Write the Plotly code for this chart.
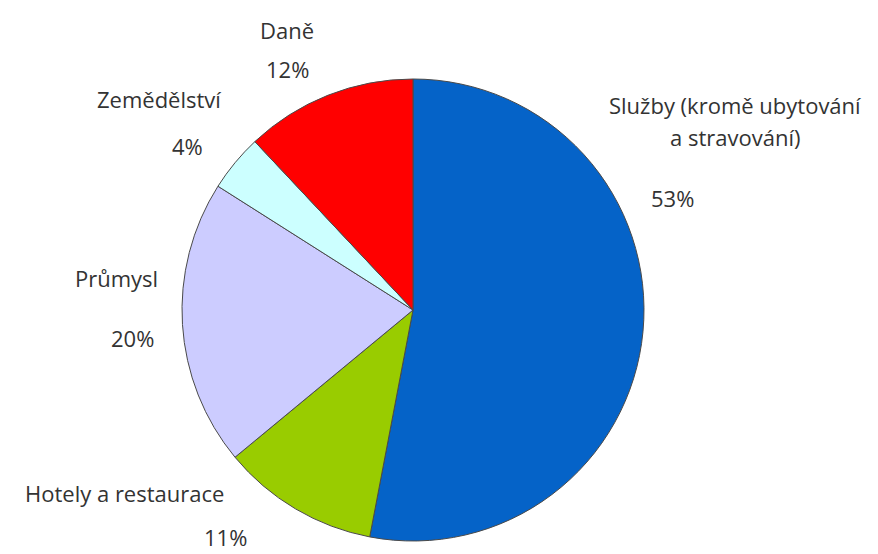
import plotly.graph_objects as go

labels = ["Služby (kromě ubytování a stravování)", "Hotely a restaurace", "Průmysl", "Zemědělství", "Daně"]
values = [53, 11, 20, 4, 12]
colors = ["#0563C8", "#99CC00", "#CCCCFF", "#CCFFFF", "#FF0000"]

# label text lines and their pixel positions (centers, in window pixels)
label_lines = [
    ["Služby (kromě ubytování", "a stravování)"],
    ["Hotely a restaurace"],
    ["Průmysl"],
    ["Zemědělství"],
    ["Daně"],
]
name_pos = [(735, 105), (124, 493), (116, 278), (159, 99), (287, 30)]
pct_pos = [(672, 198), (226, 537), (133, 338), (187, 146), (287, 69)]

OFF = 8  # page body margin
W, H = 870, 546
cx, cy, r = 413 - OFF, 310 - OFF, 231

fig = go.Figure(go.Pie(
    labels=labels,
    values=values,
    sort=False,
    direction="clockwise",
    rotation=0,
    textinfo="none",
    hoverinfo="label+percent",
    marker=dict(colors=colors, line=dict(color="#4a4a4a", width=1)),
    domain=dict(x=[(cx - r) / W, (cx + r) / W], y=[(H - cy - r) / H, (H - cy + r) / H]),
    showlegend=False,
))

font = dict(family="Open Sans, sans-serif", size=22, color="#333333")
annotations = []
for lines, (nx, ny), (px, py), v in zip(label_lines, name_pos, pct_pos, values):
    for i, line in enumerate(lines):
        annotations.append(dict(x=(nx - OFF) / W, y=1 - (ny - OFF + i * 32) / H, xref="paper", yref="paper",
                                text=line, showarrow=False, font=font, xanchor="center", yanchor="middle"))
    annotations.append(dict(x=(px - OFF) / W, y=1 - (py - OFF) / H, xref="paper", yref="paper",
                            text=f"{round(v / sum(values) * 100)}%", showarrow=False, font=font,
                            xanchor="center", yanchor="middle"))

fig.update_layout(
    width=W, height=H,
    margin=dict(l=0, r=0, t=0, b=0),
    paper_bgcolor="white",
    plot_bgcolor="white",
    annotations=annotations,
)

fig.write_html("out.html")
